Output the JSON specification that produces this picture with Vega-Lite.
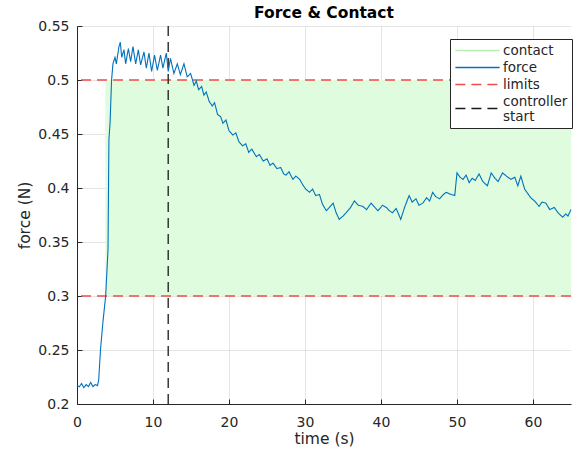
{
  "$schema": "https://vega.github.io/schema/vega-lite/v6.json",
  "width": 494,
  "height": 378,
  "autosize": {"type": "none"},
  "padding": {"left": 77, "top": 26, "right": 6, "bottom": 49},
  "background": "white",
  "title": {"text": "Force & Contact", "fontSize": 15.5, "fontWeight": "bold", "color": "#000000", "font": "DejaVu Sans", "offset": -2, "anchor": "middle", "frame": "group"},
  "datasets": {
    "force": [
      {"t": 0, "f": 0.217}, {"t": 0.3, "f": 0.216}, {"t": 0.6, "f": 0.219}, {"t": 0.9, "f": 0.215}, {"t": 1.2, "f": 0.218},
      {"t": 1.5, "f": 0.216}, {"t": 1.8, "f": 0.22}, {"t": 2.1, "f": 0.216}, {"t": 2.4, "f": 0.218}, {"t": 2.7, "f": 0.217},
      {"t": 2.85, "f": 0.222}, {"t": 3.1, "f": 0.251}, {"t": 3.4, "f": 0.275}, {"t": 3.77, "f": 0.3}, {"t": 4.08, "f": 0.343},
      {"t": 4.2, "f": 0.445}, {"t": 4.35, "f": 0.46}, {"t": 4.55, "f": 0.5}, {"t": 4.73, "f": 0.515}, {"t": 5.0, "f": 0.521},
      {"t": 5.18, "f": 0.515}, {"t": 5.52, "f": 0.531}, {"t": 5.7, "f": 0.535}, {"t": 5.88, "f": 0.521}, {"t": 6.18, "f": 0.528},
      {"t": 6.4, "f": 0.515}, {"t": 6.76, "f": 0.529}, {"t": 7.06, "f": 0.517}, {"t": 7.36, "f": 0.531}, {"t": 7.72, "f": 0.515},
      {"t": 8.07, "f": 0.528}, {"t": 8.37, "f": 0.514}, {"t": 8.81, "f": 0.526}, {"t": 9.12, "f": 0.511}, {"t": 9.47, "f": 0.525},
      {"t": 9.82, "f": 0.508}, {"t": 10.2, "f": 0.523}, {"t": 10.57, "f": 0.509}, {"t": 11.0, "f": 0.523}, {"t": 11.3, "f": 0.511},
      {"t": 11.75, "f": 0.525}, {"t": 12.0, "f": 0.508}, {"t": 12.3, "f": 0.52}, {"t": 12.75, "f": 0.506}, {"t": 13.2, "f": 0.515},
      {"t": 13.6, "f": 0.505}, {"t": 14.07, "f": 0.515}, {"t": 14.5, "f": 0.503}, {"t": 14.95, "f": 0.506}, {"t": 15.4, "f": 0.495},
      {"t": 15.7, "f": 0.499}, {"t": 16.0, "f": 0.491}, {"t": 16.4, "f": 0.494}, {"t": 16.7, "f": 0.486}, {"t": 17.0, "f": 0.489},
      {"t": 17.4, "f": 0.48}, {"t": 17.8, "f": 0.476}, {"t": 18.1, "f": 0.479}, {"t": 18.5, "f": 0.468}, {"t": 18.9, "f": 0.466},
      {"t": 19.2, "f": 0.46}, {"t": 19.6, "f": 0.463}, {"t": 20.0, "f": 0.453}, {"t": 20.5, "f": 0.449}, {"t": 20.9, "f": 0.451},
      {"t": 21.3, "f": 0.443}, {"t": 21.8, "f": 0.439}, {"t": 22.2, "f": 0.441}, {"t": 22.6, "f": 0.433}, {"t": 23.0, "f": 0.436},
      {"t": 23.6, "f": 0.429}, {"t": 24.0, "f": 0.431}, {"t": 24.5, "f": 0.425}, {"t": 25.0, "f": 0.427}, {"t": 25.4, "f": 0.421},
      {"t": 25.8, "f": 0.423}, {"t": 26.3, "f": 0.418}, {"t": 26.8, "f": 0.419}, {"t": 27.2, "f": 0.413}, {"t": 27.5, "f": 0.412},
      {"t": 27.9, "f": 0.415}, {"t": 28.4, "f": 0.408}, {"t": 28.8, "f": 0.411}, {"t": 29.3, "f": 0.408}, {"t": 29.7, "f": 0.403},
      {"t": 30.1, "f": 0.399}, {"t": 30.6, "f": 0.396}, {"t": 31.0, "f": 0.399}, {"t": 31.4, "f": 0.393}, {"t": 31.9, "f": 0.394},
      {"t": 32.3, "f": 0.385}, {"t": 32.8, "f": 0.379}, {"t": 33.2, "f": 0.382}, {"t": 33.7, "f": 0.386}, {"t": 34.1, "f": 0.377},
      {"t": 34.5, "f": 0.371}, {"t": 35.0, "f": 0.374}, {"t": 35.4, "f": 0.377}, {"t": 36.0, "f": 0.382}, {"t": 36.5, "f": 0.388},
      {"t": 37.0, "f": 0.384}, {"t": 37.6, "f": 0.383}, {"t": 38.1, "f": 0.38}, {"t": 38.7, "f": 0.386}, {"t": 39.2, "f": 0.382},
      {"t": 39.6, "f": 0.379}, {"t": 40.2, "f": 0.384}, {"t": 40.7, "f": 0.382}, {"t": 41.1, "f": 0.379}, {"t": 41.5, "f": 0.377},
      {"t": 42.0, "f": 0.381}, {"t": 42.6, "f": 0.371}, {"t": 43.1, "f": 0.382}, {"t": 43.7, "f": 0.393}, {"t": 44.1, "f": 0.387},
      {"t": 44.6, "f": 0.39}, {"t": 45.0, "f": 0.384}, {"t": 45.5, "f": 0.386}, {"t": 46.0, "f": 0.391}, {"t": 46.4, "f": 0.388},
      {"t": 46.8, "f": 0.396}, {"t": 47.2, "f": 0.392}, {"t": 47.7, "f": 0.39}, {"t": 48.2, "f": 0.394}, {"t": 48.6, "f": 0.396},
      {"t": 49.2, "f": 0.394}, {"t": 49.7, "f": 0.393}, {"t": 50.0, "f": 0.414}, {"t": 50.4, "f": 0.41}, {"t": 50.8, "f": 0.408},
      {"t": 51.2, "f": 0.412}, {"t": 51.6, "f": 0.405}, {"t": 52.0, "f": 0.409}, {"t": 52.4, "f": 0.407}, {"t": 52.9, "f": 0.413},
      {"t": 53.4, "f": 0.406}, {"t": 54.0, "f": 0.402}, {"t": 54.5, "f": 0.414}, {"t": 55.0, "f": 0.409}, {"t": 55.4, "f": 0.406},
      {"t": 56.0, "f": 0.414}, {"t": 56.5, "f": 0.411}, {"t": 57.1, "f": 0.408}, {"t": 57.6, "f": 0.41}, {"t": 58.0, "f": 0.402},
      {"t": 58.4, "f": 0.411}, {"t": 58.9, "f": 0.399}, {"t": 59.3, "f": 0.395}, {"t": 59.7, "f": 0.391}, {"t": 60.2, "f": 0.388},
      {"t": 60.8, "f": 0.383}, {"t": 61.2, "f": 0.387}, {"t": 61.7, "f": 0.386}, {"t": 62.2, "f": 0.38}, {"t": 62.8, "f": 0.382},
      {"t": 63.3, "f": 0.377}, {"t": 63.9, "f": 0.373}, {"t": 64.3, "f": 0.376}, {"t": 64.6, "f": 0.374}, {"t": 65.0, "f": 0.38}
    ],
    "contact": [
      {"t": 3.73, "lo": 0.3, "hi": 0.5},
      {"t": 65, "lo": 0.3, "hi": 0.5}
    ],
    "limits": [{"y": 0.3}, {"y": 0.5}],
    "controller": [{"t": 12}]
  },
  "layer": [
    {
      "data": {"name": "contact"},
      "mark": {"type": "area", "color": "#dffcdf", "opacity": 1},
      "encoding": {
        "x": {"field": "t", "type": "quantitative", "scale": {"domain": [0, 65], "nice": false, "zero": false},
              "axis": {"title": "time (s)", "values": [0, 10, 20, 30, 40, 50, 60], "format": "d"}},
        "y": {"field": "lo", "type": "quantitative", "scale": {"domain": [0.2, 0.55], "nice": false, "zero": false},
              "axis": {"title": "force (N)", "values": [0.2, 0.25, 0.3, 0.35, 0.4, 0.45, 0.5, 0.55], "format": ".2~f"}},
        "y2": {"field": "hi"}
      }
    },
    {
      "data": {"name": "limits"},
      "mark": {"type": "rule", "strokeWidth": 1.5},
      "encoding": {
        "y": {"field": "y", "type": "quantitative"},
        "color": {"datum": "limits", "type": "nominal", "scale": {"domain": ["contact", "force", "limits", "controller start"], "range": ["#b6f0b0", "#0072bd", "#f24b4b", "#1a1a1a"]},
                  "legend": {"title": null, "labelExpr": "datum.label == 'controller start' ? ['controller', 'start'] : datum.label",
                             "labelBaseline": {"expr": "datum.value == 'controller start' ? 'bottom' : 'middle'"}}},
        "strokeDash": {"datum": "limits", "type": "nominal", "scale": {"domain": ["contact", "force", "limits", "controller start"], "range": [[1, 0], [1, 0], [10, 6], [10, 6]]},
                  "legend": {"title": null, "labelExpr": "datum.label == 'controller start' ? ['controller', 'start'] : datum.label",
                             "labelBaseline": {"expr": "datum.value == 'controller start' ? 'bottom' : 'middle'"}}}
      }
    },
    {
      "data": {"name": "controller"},
      "mark": {"type": "rule", "strokeWidth": 1.3},
      "encoding": {
        "x": {"field": "t", "type": "quantitative"},
        "color": {"datum": "controller start", "type": "nominal"},
        "strokeDash": {"datum": "controller start", "type": "nominal"}
      }
    },
    {
      "data": {"name": "force"},
      "mark": {"type": "line", "strokeWidth": 1.1, "interpolate": "linear"},
      "encoding": {
        "x": {"field": "t", "type": "quantitative"},
        "y": {"field": "f", "type": "quantitative"},
        "color": {"datum": "force", "type": "nominal"},
        "strokeDash": {"datum": "force", "type": "nominal"}
      }
    }
  ],
  "config": {
    "view": {"stroke": null},
    "font": "DejaVu Sans",
    "axis": {
      "zindex": 1,
      "grid": true,
      "gridColor": "#000000",
      "gridOpacity": 0.1,
      "gridWidth": 1,
      "domainColor": "#262626",
      "domainWidth": 1,
      "tickColor": "#262626",
      "tickSize": -5,
      "labelColor": "#262626",
      "labelFontSize": 14,
      "labelFont": "DejaVu Sans",
      "titleColor": "#262626",
      "titleFontSize": 15.5,
      "titleFontWeight": "normal",
      "titleFont": "DejaVu Sans",
      "labelFlush": false,
      "labelOverlap": false
    },
    "axisX": {"labelPadding": 16, "titlePadding": 2},
    "axisY": {"labelPadding": 13, "titlePadding": 5},
    "legend": {
      "orient": "none",
      "legendX": 373,
      "legendY": 13,
      "symbolType": "M-3.4,0H3.4",
      "symbolSize": 169,
      "symbolOffset": 16,
      "symbolStrokeWidth": 1.3,
      "labelFontSize": 13.5,
      "labelFont": "DejaVu Sans",
      "labelColor": "#262626",
      "labelOffset": 18,
      "labelLimit": 200,
      "rowPadding": 3,
      "padding": 4,
      "strokeColor": "#262626",
      "fillColor": "white",
      "cornerRadius": 0
    }
  }
}
